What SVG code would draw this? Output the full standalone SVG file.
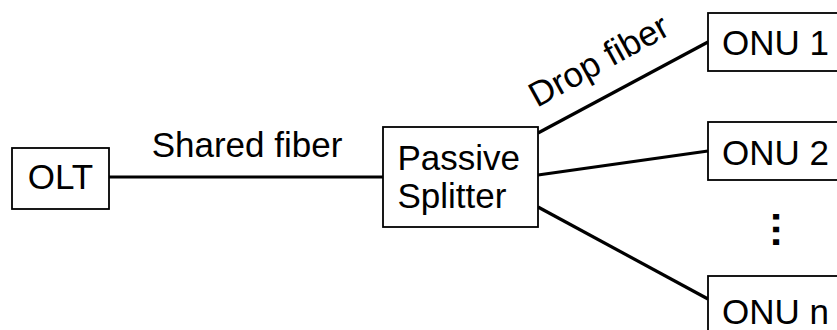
<svg xmlns="http://www.w3.org/2000/svg" width="837" height="330" viewBox="0 0 837 330">
  <style>
    .box { fill: #ffffff; stroke: #000000; stroke-width: 1.8; }
    .wire { stroke: #000000; stroke-width: 3.2; fill: none; }
    .lbl { font-family: "Liberation Sans", Arial, sans-serif; font-size: 35px; fill: #000000; }
  </style>
  <rect width="837" height="330" fill="#ffffff"/>

  <g id="connectors">
    <line class="wire" x1="109" y1="177" x2="383" y2="177"/>
    <line class="wire" x1="538" y1="133" x2="708" y2="42"/>
    <line class="wire" x1="538" y1="175" x2="708" y2="151"/>
    <line class="wire" x1="538" y1="207" x2="708" y2="299"/>
    <text class="lbl" x="247" y="157" text-anchor="middle">Shared fiber</text>
    <text class="lbl" transform="translate(537,108) rotate(-28.8)">Drop fiber</text>
  </g>

  <g id="olt">
    <rect class="box" x="12" y="148" width="97" height="61"/>
    <text class="lbl" x="60.5" y="188.5" text-anchor="middle">OLT</text>
  </g>

  <g id="splitter">
    <rect class="box" x="383" y="127" width="155" height="100"/>
    <text class="lbl" x="397.5" y="170">Passive</text>
    <text class="lbl" x="397.5" y="208">Splitter</text>
  </g>

  <g id="onu1">
    <rect class="box" x="708" y="13" width="150" height="58"/>
    <text class="lbl" x="722" y="55">ONU 1</text>
  </g>

  <g id="onu2">
    <rect class="box" x="708" y="122" width="150" height="58"/>
    <text class="lbl" x="722" y="165">ONU 2</text>
  </g>

  <g id="ellipsis">
    <text class="lbl" style="font-weight:bold;font-size:40px" transform="translate(773,209.5) rotate(90)">…</text>
  </g>

  <g id="onun">
    <rect class="box" x="708" y="276" width="150" height="80"/>
    <text class="lbl" x="722" y="324">ONU n</text>
  </g>
</svg>
